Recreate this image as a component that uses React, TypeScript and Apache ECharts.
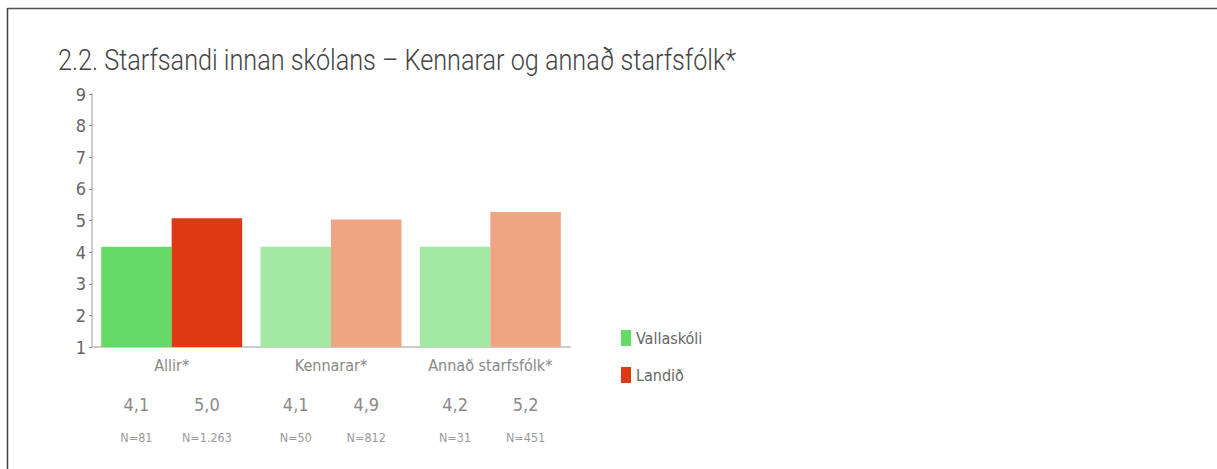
import React, { useEffect, useRef } from "react";
import * as echarts from "echarts";

const categories = ["Allir*", "Kennarar*", "Annað starfsfólk*"];
const seriesNames = ["Vallaskóli", "Landið"];
const schoolValues = [4.17, 4.17, 4.17];
const nationValues = [5.07, 5.03, 5.27];
const schoolLabels = ["4,1", "4,1", "4,2"];
const nationLabels = ["5,0", "4,9", "5,2"];
const schoolN = ["N=81", "N=50", "N=31"];
const nationN = ["N=1.263", "N=812", "N=451"];
const schoolColors = ["#66DA66", "#A3E8A3", "#A3E8A3"];
const nationColors = ["#DD3A13", "#EFA483", "#EFA483"];
const yTicks = [1, 9];

const FONT = "'DejaVu Sans Condensed', 'Roboto Condensed', Roboto, sans-serif";

export default function App() {
  const ref = useRef<HTMLDivElement>(null);
  useEffect(() => {
    if (!ref.current) return;
    const chart = echarts.init(ref.current, undefined, { renderer: "svg" });
    const mkLabel = (labels: string[], ns: string[]) => ({
      show: true,
      position: "bottom",
      distance: 42,
      formatter: (p: any) => `{v|${labels[p.dataIndex]}}\n{n|${ns[p.dataIndex]}}`,
      rich: {
        v: { fontFamily: FONT, fontSize: 18, color: "#8a8a8a", lineHeight: 30, align: "center" },
        n: { fontFamily: FONT, fontSize: 12.5, color: "#9a9a9a", lineHeight: 36, align: "center" },
      },
    });
    chart.setOption({
      animation: false,
      backgroundColor: "#ffffff",
      graphic: [
        { type: "line", shape: { x1: 7.5, y1: 8.5, x2: 1217, y2: 8.5 }, style: { stroke: "#555", lineWidth: 1.5 } },
        { type: "line", shape: { x1: 7.5, y1: 8, x2: 7.5, y2: 469 }, style: { stroke: "#444", lineWidth: 1.5 } },
        {
          type: "text",
          x: 58,
          y: 60,
          scaleX: 0.87,
          style: {
            text: "2.2. Starfsandi innan skólans – Kennarar og annað starfsfólk*",
            fontFamily: "Roboto, sans-serif",
            fontWeight: 300,
            fontSize: 29,
            fill: "#444",
            verticalAlign: "middle",
          },
        },
      ],
      legend: {
        orient: "vertical",
        left: 616,
        top: 325,
        itemWidth: 10,
        itemHeight: 16,
        itemGap: 21,
        icon: "rect",
        textStyle: { fontFamily: FONT, fontSize: 16, color: "#666" },
        data: seriesNames,
      },
      grid: { left: 92, right: 647, top: 94, bottom: 122, containLabel: false },
      xAxis: {
        type: "category",
        data: categories,
        axisLine: { lineStyle: { color: "#ccc", width: 2 } },
        axisTick: { show: false },
        axisLabel: { fontFamily: FONT, fontSize: 16, color: "#888", margin: 10, interval: 0 },
      },
      yAxis: {
        type: "value",
        min: yTicks[0],
        max: yTicks[1],
        interval: 1,
        splitLine: { show: false },
        axisLine: { show: true, lineStyle: { color: "#ccc", width: 2 } },
        axisTick: { show: true, length: 3, lineStyle: { color: "#888" } },
        axisLabel: { fontFamily: FONT, fontSize: 18, color: "#666", margin: 6 },
      },
      series: [
        {
          name: seriesNames[0],
          type: "bar",
          barGap: "0%",
          barCategoryGap: "11.5%",
          itemStyle: { color: schoolColors[0] },
          data: schoolValues.map((v, i) => ({ value: v, itemStyle: { color: schoolColors[i] } })),
          label: mkLabel(schoolLabels, schoolN),
        },
        {
          name: seriesNames[1],
          type: "bar",
          itemStyle: { color: nationColors[0] },
          data: nationValues.map((v, i) => ({ value: v, itemStyle: { color: nationColors[i] } })),
          label: mkLabel(nationLabels, nationN),
        },
      ],
    });
    return () => chart.dispose();
  }, []);
  return (
    <div
      ref={ref}
      style={{ position: "fixed", left: 0, top: 0, width: 1217, height: 469, background: "#fff" }}
    />
  );
}
